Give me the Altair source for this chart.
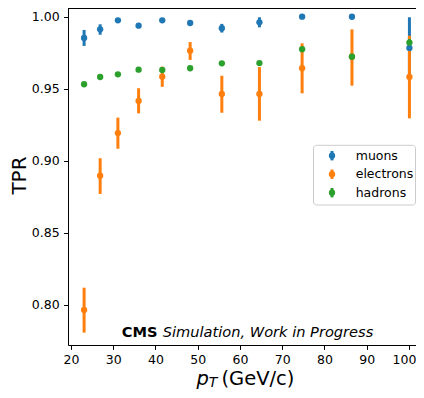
import altair as alt
import pandas as pd

# ---- data ----
pt = [23.1, 26.9, 31.1, 36.0, 41.6, 48.2, 55.7, 64.6, 74.7, 86.5, 100.1]
series = ["muons", "electrons", "hadrons"]
colors = ["#1f77b4", "#ff7f0e", "#2ca02c"]

muon_tpr = [0.9852, 0.9912, 0.9975, 0.9938, 0.9975, 0.9956, 0.9920, 0.9961, 1.0000, 1.0000, 0.9783]
muon_lo = [0.9797, 0.9875, 0.9966, 0.9926, 0.9966, 0.9946, 0.9890, 0.9926, 0.9985, 0.9980, 0.9570]
muon_hi = [0.9908, 0.9947, 0.9984, 0.9950, 0.9984, 0.9966, 0.9950, 0.9996, 1.0000, 1.0000, 0.9996]

ele_tpr = [0.7963, 0.8896, 0.9192, 0.9415, 0.9583, 0.9764, 0.9463, 0.9463, 0.9642, 0.9722, 0.9581]
ele_lo = [0.7806, 0.8769, 0.9083, 0.9329, 0.9513, 0.9700, 0.9333, 0.9278, 0.9468, 0.9521, 0.9294]
ele_hi = [0.8118, 0.9017, 0.9299, 0.9503, 0.9653, 0.9824, 0.9590, 0.9650, 0.9815, 0.9912, 0.9868]

had_tpr = [0.9531, 0.9581, 0.9600, 0.9632, 0.9630, 0.9642, 0.9676, 0.9678, 0.9774, 0.9722, 0.9820]
had_lo = [0.9525, 0.9575, 0.9594, 0.9626, 0.9623, 0.9634, 0.9666, 0.9666, 0.9758, 0.9700, 0.9795]
had_hi = [0.9537, 0.9587, 0.9606, 0.9638, 0.9637, 0.9650, 0.9686, 0.9690, 0.9790, 0.9744, 0.9845]

x_ticks = [20, 30, 40, 50, 60, 70, 80, 90, 100]
y_ticks = [0.80, 0.85, 0.90, 0.95, 1.00]

rows = []
for name, t, lo, hi in [("muons", muon_tpr, muon_lo, muon_hi),
                        ("electrons", ele_tpr, ele_lo, ele_hi),
                        ("hadrons", had_tpr, had_lo, had_hi)]:
    for i in range(len(pt)):
        rows.append({"series": name, "pt": pt[i], "tpr": t[i], "lo": lo[i], "hi": hi[i]})
df = pd.DataFrame(rows)

W, H = 348, 337
FONT = "DejaVu Sans"
xscale = alt.Scale(domain=[19.29, 101.657], nice=False, zero=False)
yscale = alt.Scale(domain=[0.77201, 1.00604], nice=False, zero=False)

xenc = alt.X("pt:Q", scale=xscale,
             axis=alt.Axis(values=x_ticks, title=None, labelPadding=4.4, format="d",
                           labelOffset={"condition": {"test": "datum.value == 100", "value": -5},
                                        "value": 0}))
yenc = alt.Y("tpr:Q", scale=yscale,
             axis=alt.Axis(values=y_ticks, format=".2f", title="TPR", labelPadding=4.4,
                           titleX=-43, titleY=167, titleAngle=270, titleAlign="center",
                           titleBaseline="alphabetic", titleFontSize=20, titleFontWeight="normal"))
cenc = alt.Color("series:N", scale=alt.Scale(domain=series, range=colors), legend=None)

base = alt.Chart(df)
bars = base.mark_rule(strokeWidth=3).encode(
    x=xenc, y=alt.Y("lo:Q", scale=yscale), y2="hi:Q", color=cenc)
points = base.mark_circle(size=40, opacity=1).encode(x=xenc, y=yenc, color=cenc)

one = pd.DataFrame({"a": [0]})
top_spine = alt.Chart(one).mark_rule(color="black", strokeWidth=1).encode(
    x=alt.value(0), x2=alt.value(W), y=alt.value(0.5))

# legend
box = alt.Chart(one).mark_rect(fill="white", fillOpacity=0.8, stroke="#cccccc",
                               strokeWidth=1, cornerRadius=3).encode(
    x=alt.value(245.5), x2=alt.value(347.5), y=alt.value(137.3), y2=alt.value(197))
legend_layers = [box]
for i, name in enumerate(series):
    cy = 147.7 + 18.5 * i
    d = pd.DataFrame({"series": [name]})
    legend_layers.append(alt.Chart(d).mark_rule(strokeWidth=3, color=colors[i]).encode(
        x=alt.value(264), y=alt.value(cy - 4.7), y2=alt.value(cy + 4.7)))
    legend_layers.append(alt.Chart(d).mark_circle(size=40, opacity=1, color=colors[i]).encode(
        x=alt.value(264), y=alt.value(cy)))
    legend_layers.append(alt.Chart(d).mark_text(align="left", baseline="middle", font=FONT,
                                                fontSize=12.5, color="black").encode(
        x=alt.value(287.7), y=alt.value(cy), text="series:N"))

# annotation
cms = alt.Chart(pd.DataFrame({"t": ["CMS"]})).mark_text(
    align="left", baseline="alphabetic", font=FONT, fontSize=14.6, fontWeight="bold",
    color="black").encode(x=alt.value(53.7), y=alt.value(328.7), text="t:N")
sim = alt.Chart(pd.DataFrame({"t": ["Simulation, Work in Progress"]})).mark_text(
    align="left", baseline="alphabetic", font=FONT, fontSize=14.6, fontStyle="italic",
    color="black").encode(x=alt.value(94.7), y=alt.value(328.7), text="t:N")

# x axis title: p_T (GeV/c)
TB = 377.3
xt_p = alt.Chart(pd.DataFrame({"t": ["p"]})).mark_text(
    align="left", baseline="alphabetic", font=FONT, fontSize=19.5, fontStyle="italic",
    color="black").encode(x=alt.value(128.5), y=alt.value(TB), text="t:N")
xt_T = alt.Chart(pd.DataFrame({"t": ["T"]})).mark_text(
    align="left", baseline="alphabetic", font=FONT, fontSize=14, fontStyle="italic",
    color="black").encode(x=alt.value(140.8), y=alt.value(TB + 1.5), text="t:N")
xt_u = alt.Chart(pd.DataFrame({"t": ["(GeV/c)"]})).mark_text(
    align="left", baseline="alphabetic", font=FONT, fontSize=19.5,
    color="black").encode(x=alt.value(153.5), y=alt.value(TB), text="t:N")

chart = alt.layer(bars, points, top_spine, *legend_layers, cms, sim, xt_p, xt_T, xt_u).properties(
    width=W, height=H,
    padding={"left": 60, "top": 0, "right": 0, "bottom": 45},
    autosize=alt.AutoSizeParams(type="none"),
    background="white",
).configure_view(strokeWidth=0).configure_axis(
    labelFont=FONT, labelFontSize=12.5, labelColor="black",
    titleFont=FONT, titleColor="black",
    tickColor="black", tickSize=4.4, tickWidth=1,
    domainColor="black", domainWidth=1, grid=False,
)

chart.save("out.html", embed_options={"renderer": "svg", "actions": False})
